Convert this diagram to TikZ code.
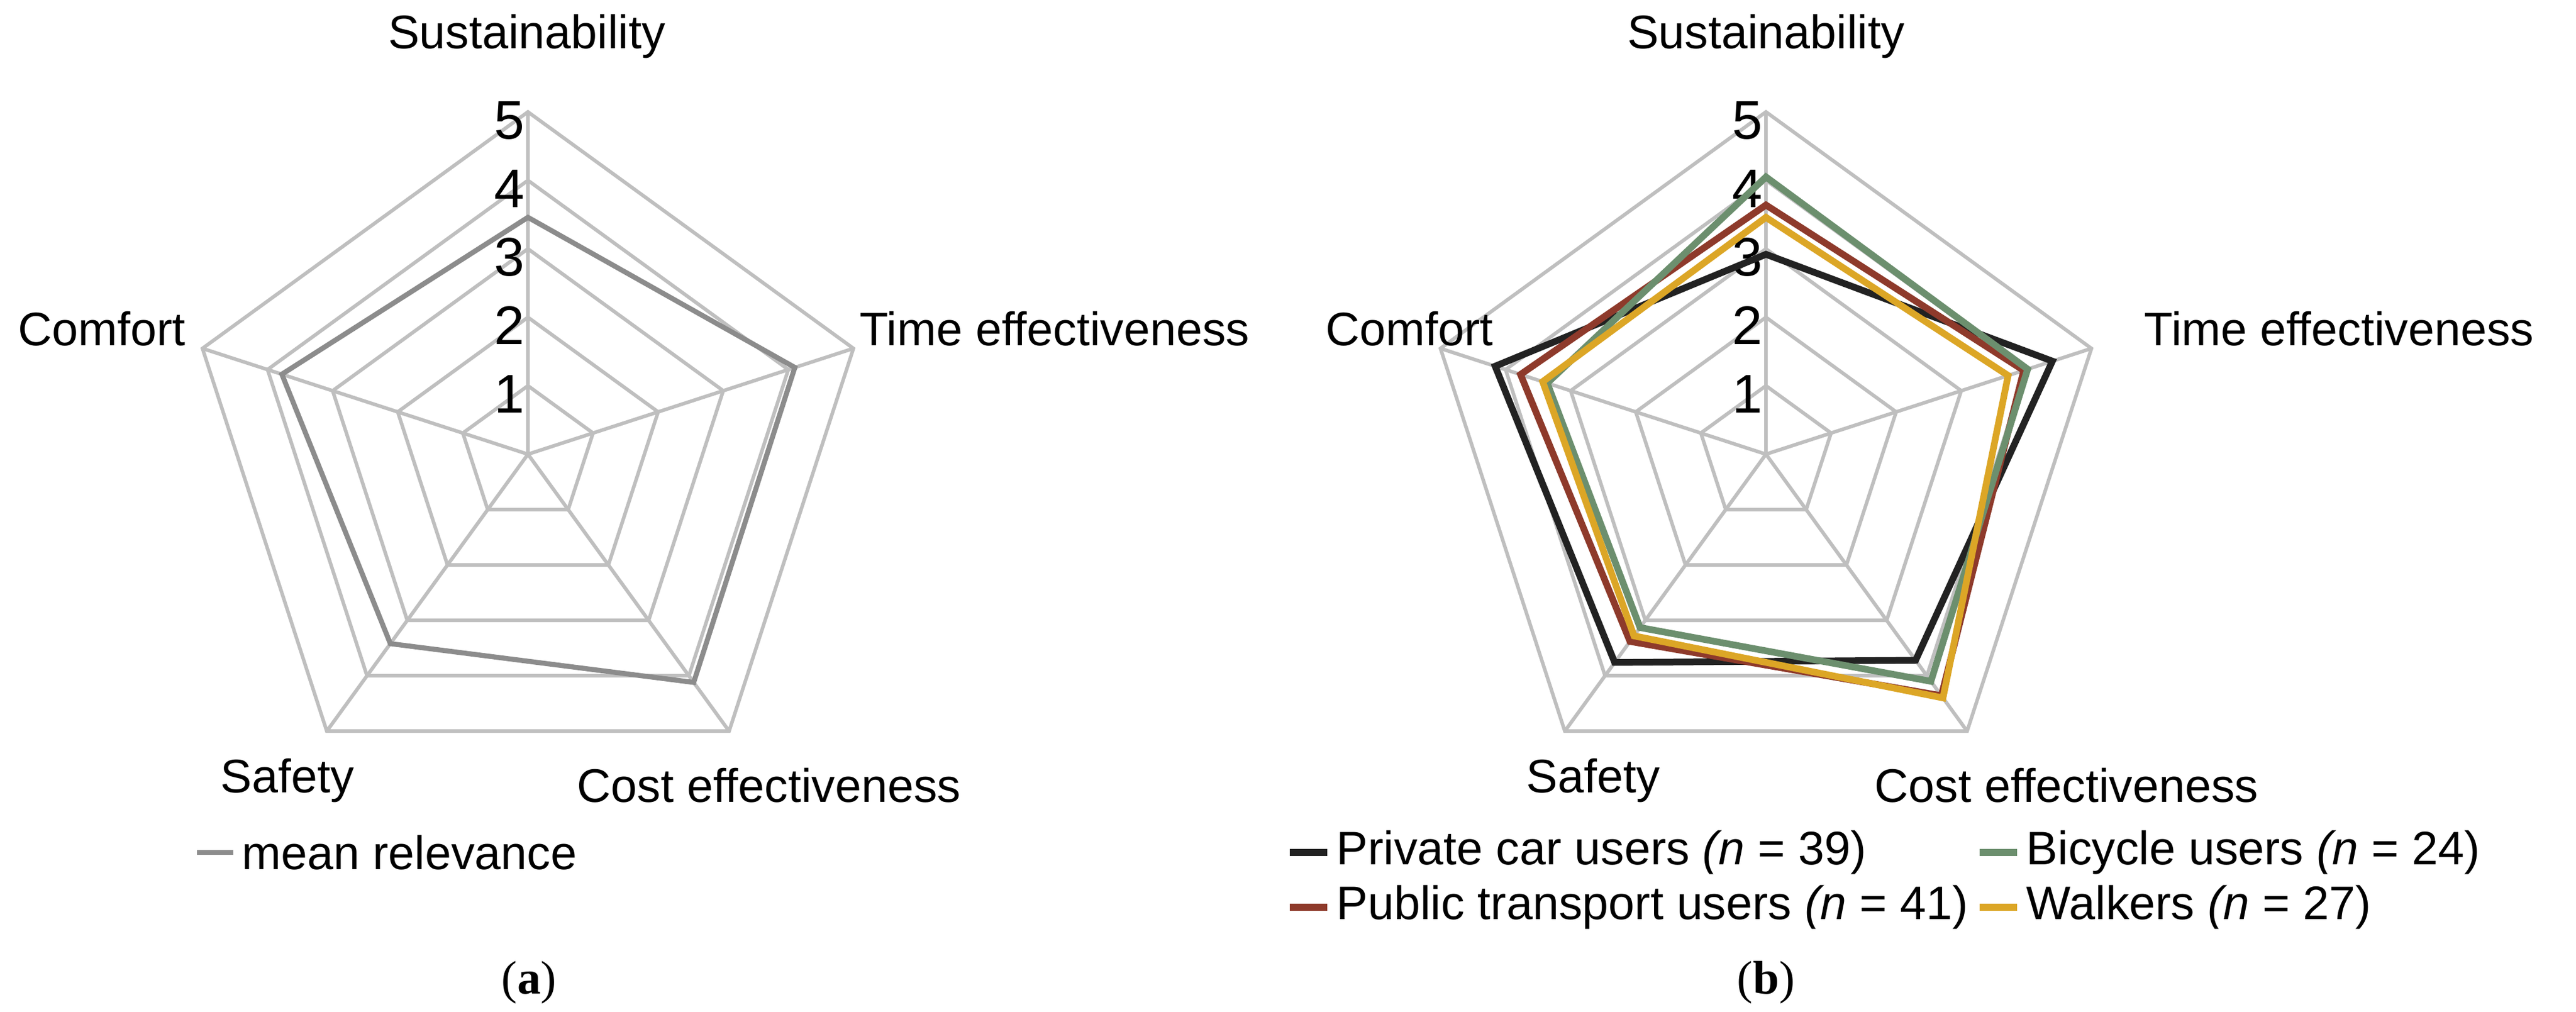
\documentclass[tikz,border=0pt]{standalone}
\usepackage{fontspec}
\setmainfont{Liberation Sans}
\newfontfamily\capfont{Liberation Serif}
\definecolor{gridc}{HTML}{BFBFBF}
\definecolor{meanc}{HTML}{8C8C8C}
\definecolor{carc}{HTML}{222222}
\definecolor{ptc}{HTML}{8E3A2B}
\definecolor{bikec}{HTML}{6C8F6E}
\definecolor{walkc}{HTML}{DCA626}
\tikzset{
  lbl/.style={font=\fontsize{22.5}{26}\selectfont, inner sep=0pt},
  tick/.style={font=\fontsize{26}{30}\selectfont, inner sep=0pt},
  gridl/.style={draw=gridc, line width=1.7pt, line join=miter},
  series/.style={line width=3.2pt, line join=miter},
  capt/.style={font=\capfont\fontsize{22.5}{26}\selectfont, inner sep=0pt},
}
\def\u{1.15}
\newcommand{\radargrid}{%
  \foreach \k in {1,...,5}{
    \draw[gridl] (90:\k*\u) -- (18:\k*\u) -- (-54:\k*\u) -- (-126:\k*\u) -- (162:\k*\u) -- cycle;
  }
  \foreach \a in {90,18,-54,-126,162}{\draw[gridl] (0,0) -- (\a:5*\u);}
  \foreach \k in {1,...,5}{\node[tick] at (-0.31,\k*\u-0.14) {\k};}
}
\newcommand{\series}[6]{%
  \draw[series,#1] (90:#2*\u) -- (18:#3*\u) -- (-54:#4*\u) -- (-126:#5*\u) -- (162:#6*\u) -- cycle;
}
\begin{document}
\begin{tikzpicture}
\useasboundingbox (0,0) rectangle (43.28,-16.99);
% ---------- (a)
\begin{scope}[shift={(8.87,-7.63)}]
  \radargrid
  \series{draw=meanc,line width=2.4pt}{3.46}{4.1}{4.12}{3.42}{3.78}
\end{scope}
\node[lbl] (sa) at (8.85,-0.61) {Sustainability};
\node[lbl] (ca) at (1.71,-5.52) {Comfort};
\node[lbl] (ta) at (17.72,-5.52) {Time effectiveness};
\node[lbl] (sfa) at (4.83,-13.11) {Safety};
\node[lbl] (cea) at (12.92,-13.19) {Cost effectiveness};
\coordinate (la1) at (3.31,-14.32);
\coordinate (la2) at (3.92,-14.32);
\draw[meanc,line width=2.4pt] (la1) -- (la2);
\node[lbl,anchor=west] (lta) at (4.06,-14.32) {mean relevance};
\node[capt] (capa) at (8.89,-16.5) {(\textbf{a})};
% ---------- (b)
\begin{scope}[shift={(29.67,-7.63)}]
  \radargrid
  \series{draw=carc}{2.92}{4.4}{3.72}{3.76}{4.16}
  \series{draw=ptc}{3.64}{3.96}{4.36}{3.38}{3.77}
  \series{draw=bikec}{4.05}{4.02}{4.1}{3.13}{3.36}
  \series{draw=walkc}{3.46}{3.72}{4.4}{3.28}{3.43}
\end{scope}
\node[lbl] (sb) at (29.67,-0.61) {Sustainability};
\node[lbl] (cb) at (23.68,-5.52) {Comfort};
\node[lbl] (tb) at (39.30,-5.52) {Time effectiveness};
\node[lbl] (sfb) at (26.77,-13.11) {Safety};
\node[lbl] (ceb) at (34.72,-13.19) {Cost effectiveness};
\draw[carc,line width=3.2pt] (21.67,-14.32) -- (22.30,-14.32);
\node[lbl,anchor=west] (l1) at (22.45,-14.32) {Private car users \textit{(n} = 39)};
\draw[bikec,line width=3.2pt] (33.26,-14.32) -- (33.89,-14.32);
\node[lbl,anchor=west] (l2) at (34.04,-14.32) {Bicycle users \textit{(n} = 24)};
\draw[ptc,line width=3.2pt] (21.67,-15.24) -- (22.30,-15.24);
\node[lbl,anchor=west] (l3) at (22.45,-15.24) {Public transport users \textit{(n} = 41)};
\draw[walkc,line width=3.2pt] (33.26,-15.24) -- (33.89,-15.24);
\node[lbl,anchor=west] (l4) at (34.04,-15.24) {Walkers \textit{(n} = 27)};
\node[capt] (capb) at (29.67,-16.5) {(\textbf{b})};
\end{tikzpicture}
\end{document}
